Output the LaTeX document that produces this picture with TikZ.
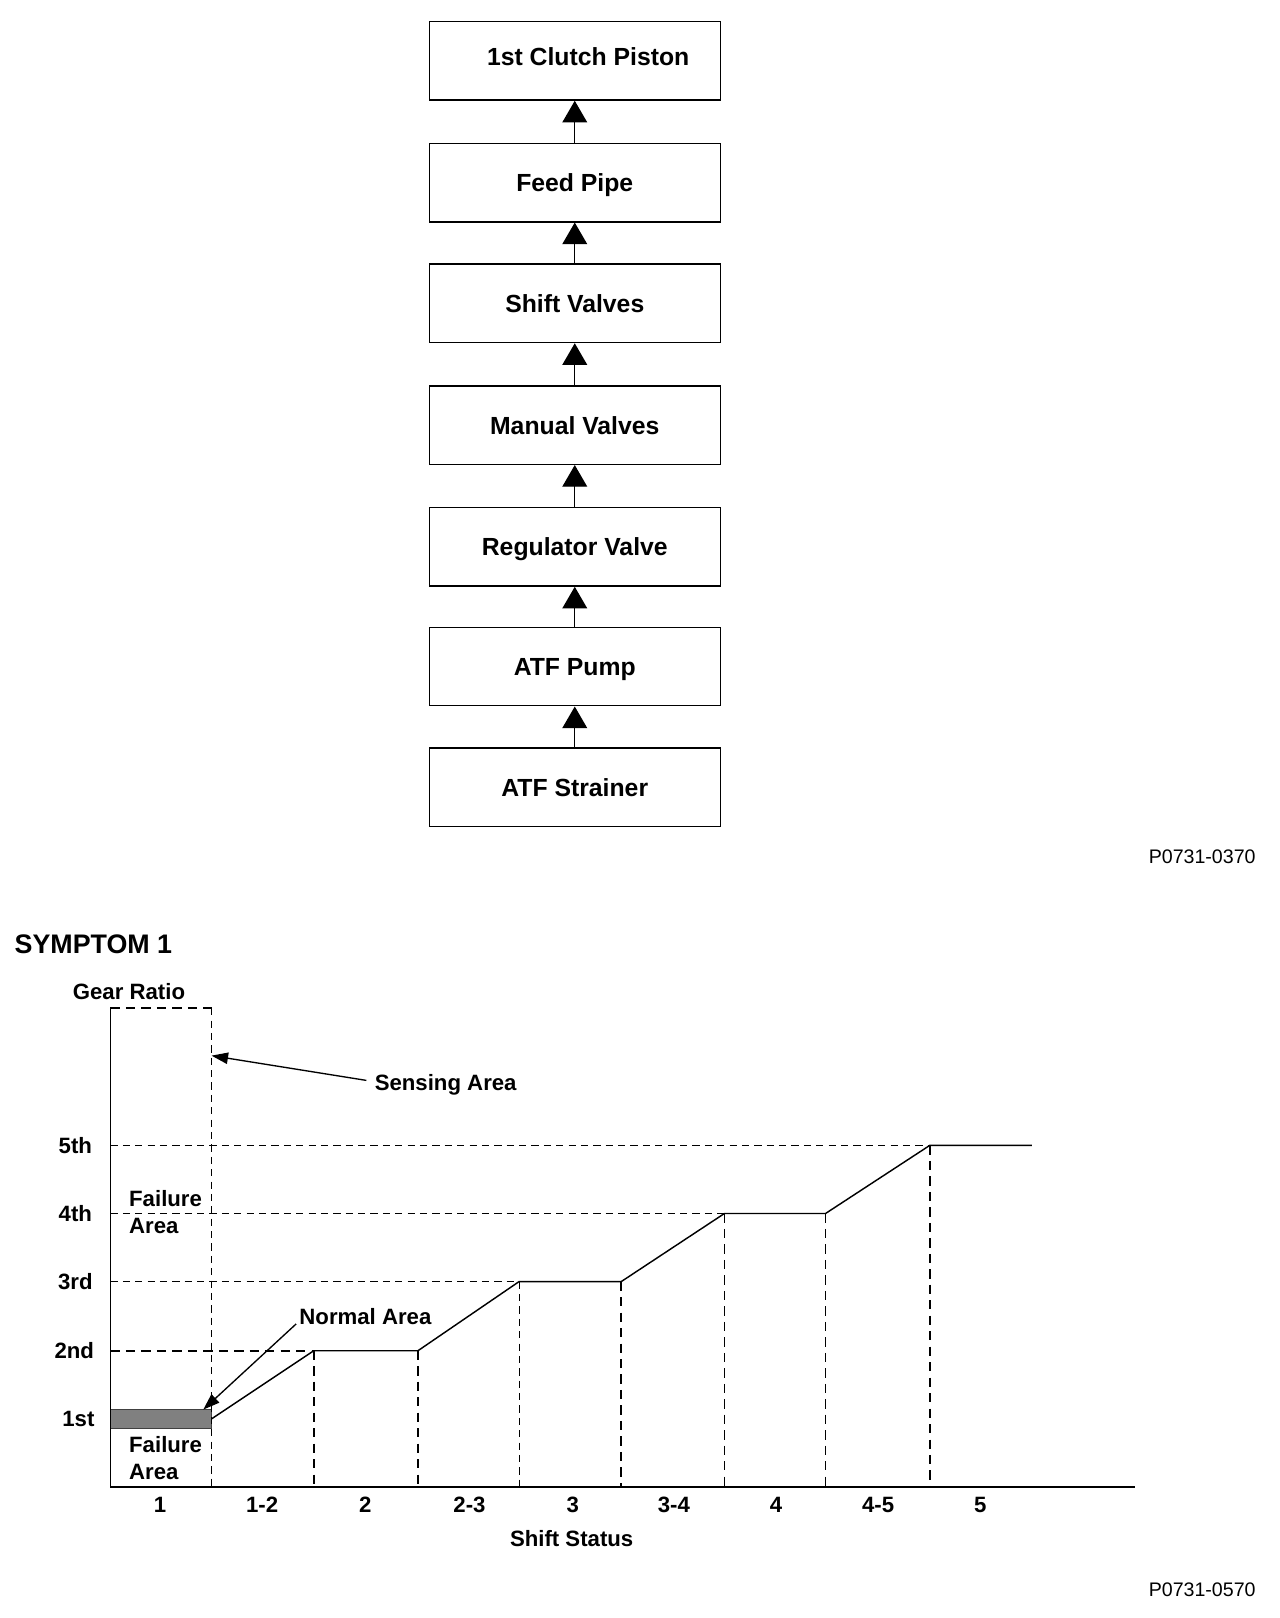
\documentclass[tikz,border=0pt]{standalone}
\usepackage{fontspec}
\setmainfont{Liberation Sans}
\usetikzlibrary{arrows.meta}
\begin{document}
\begin{tikzpicture}[x=1pt,y=-1pt,
  box/.style={draw,line width=1.3pt,minimum width=282pt,minimum height=76pt,inner sep=0pt,text height=17.5pt,text depth=0pt,font=\fontsize{24}{28}\selectfont\bfseries},
  flow/.style={line width=1.3pt,-{Triangle[width=24pt,length=21pt]}},
  lbl/.style={font=\fontsize{21.5}{26}\selectfont\bfseries,inner sep=0pt},
  dashA/.style={line width=0.9pt,dash pattern=on 7pt off 5pt},
  dashB/.style={line width=1.7pt,dash pattern=on 9pt off 6pt},
  curveline/.style={line width=1.4pt},
  pointer/.style={line width=1.3pt,-{Triangle[width=11pt,length=16pt]}},
  code/.style={font=\fontsize{19}{22}\selectfont,inner sep=0pt},
]
\useasboundingbox (0,0) rectangle (1240,1568);
% flow chart
\node[box] (b1) at (557,59) {\hspace*{26pt}\raisebox{4pt}{1st Clutch Piston}};
\node[box] (b2) at (557,177) {Feed Pipe};
\node[box] (b3) at (557,294) {Shift Valves};
\node[box] (b4) at (557,412) {Manual Valves};
\node[box] (b5) at (557,530) {Regulator Valve};
\node[box] (b6) at (557,646) {ATF Pump};
\node[box] (b7) at (557,763) {ATF Strainer};
\foreach \a/\b in {b2/b1,b3/b2,b4/b3,b5/b4,b6/b5,b7/b6}
  \draw[flow] (\a.north) -- (\b.south);
\node[code,anchor=east] (c1) at (1217,830) {P0731-0370};

% chart
\node[font=\fontsize{26}{30}\selectfont\bfseries,inner sep=0pt,anchor=west] (sym) at (14,915) {SYMPTOM 1};
\node[lbl] (gr) at (125,961) {Gear Ratio};
\coordinate (top) at (107,977);
\coordinate (O) at (107,1441);
\coordinate (xend) at (1100,1441);
\coordinate (stop) at (205,977);
\coordinate (sbot) at (205,1441);
% shaded normal band
\fill[black!50] (107,1366) rectangle (205,1384);
\draw[line width=0.8pt,black!75] (107,1366) rectangle (205,1384);
% dashed guides
\draw[dashB] (top) -- (stop);
\draw[dashA] (stop) -- (sbot);
\draw[dashA] (107,1110) -- (901,1110);
\draw[dashA] (107,1176) -- (702,1176);
\draw[dashA] (107,1242) -- (503,1242);
\draw[dashB] (107,1309) -- (304,1309);
\draw[dashB] (304,1309) -- (304,1441);
\draw[dashB] (405,1309) -- (405,1441);
\draw[dashA] (503,1242) -- (503,1441);
\draw[dashB] (602,1242) -- (602,1441);
\draw[dashB] (702,1176) -- (702,1441);
\draw[dashB] (800,1176) -- (800,1441);
\draw[dashB] (901,1110) -- (901,1441);
% axes
\draw[line width=1.1pt] (top) -- (O);
\draw[line width=2pt] (O) -- (xend);
% gear curve
\draw[curveline] (205,1375) -- (304,1309) -- (405,1309) -- (503,1242) -- (602,1242) -- (702,1176) -- (800,1176) -- (901,1110) -- (1000,1110);
% y labels
\node[lbl] (g5) at (73,1110) {5th};
\node[lbl] (g4) at (73,1176) {4th};
\node[lbl] (g3) at (73,1242) {3rd};
\node[lbl] (g2) at (72,1309) {2nd};
\node[lbl] (g1) at (76,1375) {1st};
% x labels
\foreach \t/\x [count=\i] in {1/155,1-2/254,2/354,2-3/455,3/555,3-4/653,4/752,4-5/851,5/950}
  \node[lbl] (x\i) at (\x,1458) {\t};
\node[lbl] (ss) at (554,1491) {Shift Status};
% area labels
\node[lbl,anchor=west,align=left] (fa1) at (125,1175) {Failure\\Area};
\node[lbl,anchor=west,align=left] (fa2) at (125,1413) {Failure\\Area};
\node[lbl,anchor=west] (sa) at (363,1051) {Sensing Area};
\node[lbl,anchor=west] (na) at (290,1276) {Normal Area};
\coordinate (satip) at (205,1023);
\coordinate (natip) at (197,1366);
\draw[pointer] (355,1047) -- (satip);
\draw[pointer] (287,1283) -- (natip);
\node[code,anchor=east] (c2) at (1217,1541) {P0731-0570};
\end{tikzpicture}
\end{document}
